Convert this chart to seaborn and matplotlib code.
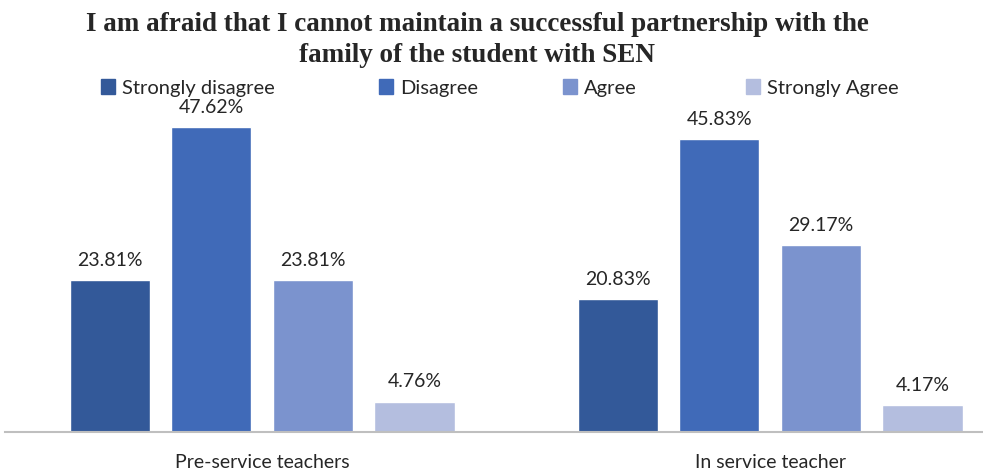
import matplotlib
matplotlib.use("Agg")
import matplotlib.pyplot as plt
import seaborn as sns
import pandas as pd
from matplotlib.patches import Patch

groups = ["Pre-service teachers", "In service teacher"]
levels = ["Strongly disagree", "Disagree", "Agree", "Strongly Agree"]
pre_service = [23.81, 47.62, 23.81, 4.76]
in_service = [20.83, 45.83, 29.17, 4.17]
colors = ["#335999", "#406AB8", "#7B93CE", "#B4BEDF"]

rows = []
for g, vals in zip(groups, [pre_service, in_service]):
    for lv, v in zip(levels, vals):
        rows.append({"group": g, "level": lv, "value": v})
df = pd.DataFrame(rows)

sns.set_style("white")
plt.rcParams["font.family"] = ["Lato", "DejaVu Sans"]

fig = plt.figure(figsize=(9.83, 4.70), dpi=100)
ax = fig.add_axes([5 / 983, 1 - 432 / 470, 978 / 983, 320 / 470])

sns.barplot(data=df, x="group", y="value", hue="level", order=groups,
            hue_order=levels, palette=colors, width=0.8, gap=0.21,
            saturation=1, ax=ax, legend=False)

for cont in ax.containers:
    ax.bar_label(cont, labels=[f"{v:.2f}%" for v in cont.datavalues],
                 padding=8, fontsize=14, color="#262626")

ax.set_ylim(0, 50)
ax.set_xlim(-0.506, 1.419)
ax.set_xlabel("")
ax.set_ylabel("")
ax.set_yticks([])
ax.tick_params(axis="x", length=0, pad=16, labelsize=14, labelcolor="#262626")
for s in ["top", "left", "right"]:
    ax.spines[s].set_visible(False)
ax.spines["bottom"].set_color("#BFBFBF")
ax.spines["bottom"].set_linewidth(1.5)

# legend entries
leg_x = [101, 379, 563, 746]
for lv, c, x in zip(levels, colors, leg_x):
    lg = fig.legend(handles=[Patch(facecolor=c, edgecolor=c)], labels=[lv],
                    loc="center left", bbox_to_anchor=(x / 983, 1 - 88 / 470),
                    frameon=False, fontsize=14.5, handlelength=0.7,
                    handleheight=0.7, handletextpad=0.35, borderpad=0,
                    borderaxespad=0)
    for t in lg.get_texts():
        t.set_color("#262626")

fig.text(477 / 983, 1 - 40 / 470,
         "I am afraid that I cannot maintain a successful partnership with the\nfamily of the student with SEN",
         ha="center", va="center", fontsize=19.5, fontweight="bold",
         family=["Liberation Serif"], linespacing=1.35)

fig.savefig("out.png", dpi=100)
